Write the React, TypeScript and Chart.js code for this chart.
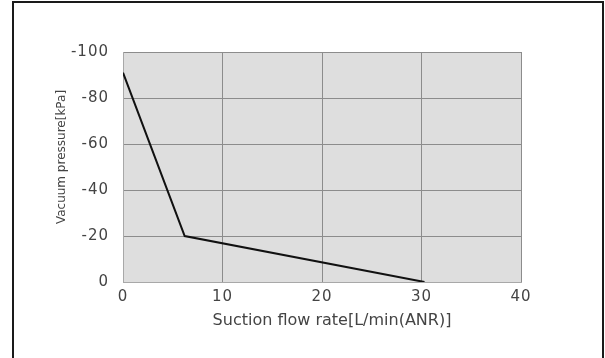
import React, { useEffect, useRef } from "react";
import { Chart, registerables } from "chart.js";

Chart.register(...registerables);

const flowRate = [0, 6.2, 30.3];
const vacuumPressure = [-91, -20, 0];
const xTicks = [0, 10, 20, 30, 40];
const yTicks = [-100, -80, -60, -40, -20, 0];
const xTitle = "Suction flow rate[L/min(ANR)]";
const yTitle = "Vacuum pressure[kPa]";

const plotBg = {
  id: "plotBg",
  beforeDraw(chart: any) {
    const { ctx, chartArea } = chart;
    ctx.save();
    ctx.fillStyle = "#dedede";
    ctx.fillRect(chartArea.left, chartArea.top, chartArea.right - chartArea.left, chartArea.bottom - chartArea.top);
    ctx.restore();
    const shifts: Record<string, [number, number]> = { x: [10, 0], y: [0, -10] };
    for (const id of ["x", "y"]) {
      const s = chart.scales[id];
      if (!s || s._patched) continue;
      s._patched = true;
      const origLabels = s.drawLabels.bind(s);
      s.drawLabels = (area: any) => {
        ctx.save();
        ctx.letterSpacing = "1px";
        origLabels(area);
        ctx.restore();
      };
      const origTitle = s.drawTitle.bind(s);
      const [dx, dy] = shifts[id];
      s.drawTitle = (area: any) => {
        ctx.save();
        ctx.translate(dx, dy);
        origTitle(area);
        ctx.restore();
      };
    }
  },
};

export default function App() {
  const ref = useRef<HTMLCanvasElement>(null);
  useEffect(() => {
    if (!ref.current) return;
    const chart = new Chart(ref.current, {
      type: "scatter",
      data: {
        datasets: [
          {
            data: flowRate.map((x, i) => ({ x, y: vacuumPressure[i] })),
            showLine: true,
            borderColor: "#111111",
            borderWidth: 2,
            pointRadius: 0,
            tension: 0,
          },
        ],
      },
      options: {
        responsive: false,
        animation: false,
        layout: { padding: { left: 50, top: 52, right: 84, bottom: 20 } },
        plugins: { legend: { display: false }, tooltip: { enabled: false } },
        scales: {
          x: {
            type: "linear",
            min: 0,
            max: 40,
            afterBuildTicks: (s: any) => {
              s.ticks = xTicks.map((v) => ({ value: v }));
            },
            afterFit: (s: any) => {
              s.height = 56;
            },
            grid: { color: "#8c8c8c", lineWidth: 1, drawTicks: false },
            border: { color: "#a8a8a8" },
            ticks: {
              padding: 6,
              color: "#444",
              font: { family: "DejaVu Sans", size: 15 },
              maxRotation: 0,
            },
            title: {
              display: true,
              text: xTitle,
              color: "#444",
              font: { family: "DejaVu Sans", size: 16 },
              padding: { top: 0, bottom: 8 },
            },
          },
          y: {
            type: "linear",
            min: -100,
            max: 0,
            reverse: true,
            afterBuildTicks: (s: any) => {
              s.ticks = yTicks.map((v) => ({ value: v }));
            },
            afterFit: (s: any) => {
              s.width = 73;
            },
            grid: { color: "#8c8c8c", lineWidth: 1, drawTicks: false },
            border: { color: "#a8a8a8" },
            ticks: {
              padding: 14,
              color: "#444",
              font: { family: "DejaVu Sans", size: 15 },
            },
            title: {
              display: true,
              text: yTitle,
              color: "#444",
              font: { family: "DejaVu Sans", size: 12 },
              padding: { top: 5, bottom: 0 },
            },
          },
        },
      },
      plugins: [plotBg],
    });
    return () => chart.destroy();
  }, []);
  return (
    <div style={{ position: "fixed", left: 0, top: 0, width: 605, height: 358, overflow: "hidden", background: "#fff" }}>
      <canvas ref={ref} width={605} height={358} style={{ position: "absolute", left: 0, top: 0 }} />
      <div
        style={{
          position: "absolute",
          left: 12,
          top: 1,
          width: 588,
          height: 400,
          border: "2px solid #1a1a1a",
          pointerEvents: "none",
        }}
      />
    </div>
  );
}
